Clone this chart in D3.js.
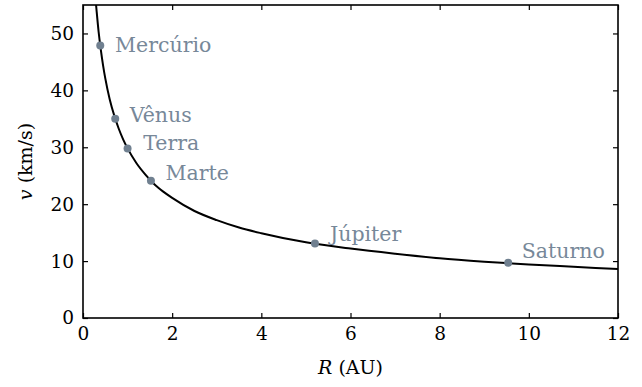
<!DOCTYPE html>
<html>
<head>
<meta charset="utf-8">
<script src="https://cdn.jsdelivr.net/npm/d3@7"></script>
<style>
  body { margin: 0; background: #fff; }
</style>
</head>
<body>
<div id="chart"></div>
<script>
// orbital speed curve (R in AU, v in km/s)
const curveR = [0.293, 0.3, 0.35, 0.4, 0.45, 0.5, 0.6, 0.7, 0.8, 0.9, 1, 1.2, 1.4, 1.6, 1.8, 2, 2.5, 3, 3.5, 4, 5, 6, 7, 8, 9, 10, 11, 12];
const curveV = [55.0, 54.4, 50.3, 47.1, 44.4, 42.1, 38.4, 35.6, 33.3, 31.4, 29.8, 27.2, 25.2, 23.5, 22.2, 21.1, 18.8, 17.2, 15.9, 14.9, 13.3, 12.2, 11.3, 10.5, 9.9, 9.4, 9.0, 8.6];

// planets
const planets = ['Mercúrio', 'Vênus', 'Terra', 'Marte', 'Júpiter', 'Saturno'];
const planetR = [0.387, 0.723, 1.0, 1.524, 5.203, 9.537];
const planetV = [47.9, 35.0, 29.8, 24.1, 13.1, 9.7];
// where each name sits (data coords, left/baseline)
const labelR = [0.72, 1.05, 1.35, 1.85, 5.54, 9.84];
const labelV = [46.7, 34.5, 29.5, 24.3, 13.6, 10.6];

const xTicks = [0, 2, 4, 6, 8, 10, 12];
const yTicks = [0, 10, 20, 30, 40, 50];

const FONT = 'DejaVu Serif';
const width = 642, height = 387;
const margin = { top: 5, right: 24, bottom: 69, left: 83 };
const w = width - margin.left - margin.right;
const h = height - margin.top - margin.bottom;

const svg = d3.select('#chart').append('svg')
  .attr('width', width)
  .attr('height', height);

const g = svg.append('g')
  .attr('transform', 'translate(' + margin.left + ',' + margin.top + ')');

const x = d3.scaleLinear().domain([0, 12]).range([0, w]);
const y = d3.scaleLinear().domain([0, 55]).range([h, 0]);

g.append('clipPath').attr('id', 'clip')
  .append('rect').attr('width', w).attr('height', h);

// curve
const curveData = curveR.map((r, i) => ({ r: r, v: curveV[i] }));
const line = d3.line()
  .x(d => x(d.r))
  .y(d => y(d.v))
  .curve(d3.curveMonotoneX);

g.append('path')
  .datum(curveData)
  .attr('clip-path', 'url(#clip)')
  .attr('fill', 'none')
  .attr('stroke', '#000')
  .attr('stroke-width', 2)
  .attr('d', line);

// planets
const pts = planets.map((p, i) => ({ name: p, r: planetR[i], v: planetV[i], lr: labelR[i], lv: labelV[i] }));

g.selectAll('.dot')
  .data(pts)
  .enter().append('circle')
  .attr('class', 'dot')
  .attr('cx', d => x(d.r))
  .attr('cy', d => y(d.v))
  .attr('r', 4)
  .attr('fill', '#708090');

g.selectAll('.lbl')
  .data(pts)
  .enter().append('text')
  .attr('class', 'lbl')
  .attr('x', d => x(d.lr))
  .attr('y', d => y(d.lv))
  .attr('fill', '#778899')
  .attr('font-family', FONT)
  .attr('font-size', 20.5)
  .text(d => d.name);

// axes, ticks pointing inward on all four sides
function styleAxis(sel, hideText) {
  sel.select('.domain').remove();
  sel.selectAll('.tick line').attr('stroke', '#000').attr('stroke-width', 1.2);
  sel.selectAll('.tick text')
    .attr('fill', '#000')
    .attr('font-family', FONT)
    .attr('font-size', 18.5);
  if (hideText) sel.selectAll('.tick text').remove();
}

g.append('g')
  .attr('transform', 'translate(0,' + h + ')')
  .call(d3.axisBottom(x).tickValues(xTicks).tickSize(-5).tickPadding(9))
  .call(s => styleAxis(s, false));

g.append('g')
  .call(d3.axisTop(x).tickValues(xTicks).tickSize(-5))
  .call(s => styleAxis(s, true));

g.append('g')
  .call(d3.axisLeft(y).tickValues(yTicks).tickSize(-5).tickPadding(9))
  .call(s => styleAxis(s, false));

g.append('g')
  .attr('transform', 'translate(' + w + ',0)')
  .call(d3.axisRight(y).tickValues(yTicks).tickSize(-5))
  .call(s => styleAxis(s, true));

// frame
g.append('rect')
  .attr('width', w)
  .attr('height', h)
  .attr('fill', 'none')
  .attr('stroke', '#000')
  .attr('stroke-width', 1.6);

// axis titles
const xt = g.append('text')
  .attr('x', w / 2)
  .attr('y', h + 56)
  .attr('text-anchor', 'middle')
  .attr('font-family', FONT)
  .attr('font-size', 19);
xt.append('tspan').attr('font-style', 'italic').text('R');
xt.append('tspan').text(' (AU)');

const yt = g.append('text')
  .attr('transform', 'translate(' + (-51) + ',' + (h / 2) + ') rotate(-90)')
  .attr('text-anchor', 'middle')
  .attr('font-family', FONT)
  .attr('font-size', 19);
yt.append('tspan').attr('font-style', 'italic').text('v');
yt.append('tspan').text(' (km/s)');
</script>
</body>
</html>
